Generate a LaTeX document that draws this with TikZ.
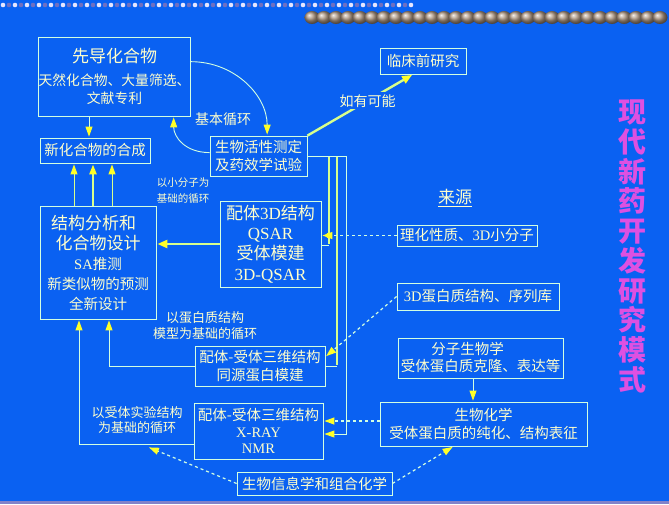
\documentclass[tikz,border=0pt]{standalone}
\usepackage{fontspec}
\setmainfont{Noto Sans CJK SC}
\newfontfamily\tm{Liberation Serif}
\usepackage{tikz}
\usetikzlibrary{arrows.meta,calc}

\definecolor{bg}{RGB}{10,97,242}
\definecolor{txt}{RGB}{255,255,204}
\definecolor{frame}{RGB}{210,255,225}
\definecolor{fat}{RGB}{215,255,140}
\definecolor{tip}{RGB}{255,255,40}
\definecolor{ttl}{RGB}{222,80,225}
\definecolor{pebble}{RGB}{175,152,132}

\begin{document}
\begin{tikzpicture}[x=1pt,y=-1pt,shorten >=1pt]
        \tikzstyle{box}=[draw=frame,line width=0.8pt,text=txt,inner sep=0pt,align=center,font=\fontsize{14.5}{18.5}\selectfont]
        \tikzstyle{note}=[text=txt,inner sep=0pt,align=center]
        \tikzstyle{wire}=[draw=frame,line width=0.9pt,-{Triangle[length=10pt,width=7pt,color=tip,fill=tip]}]
        \tikzstyle{fatwire}=[draw=fat,line width=2.4pt,-{Triangle[length=10pt,width=8pt,color=tip,fill=tip]}]
        \tikzstyle{dashwire}=[draw=frame,line width=1.2pt,dash pattern=on 3pt off 3pt,-{Triangle[length=10pt,width=7pt,color=tip,fill=tip]}]
        % background and top border
        \fill[bg] (0,0) rectangle (669,504);
        \useasboundingbox (0,0) rectangle (669,504);
        \foreach \i in {0,2,...,68} \fill[white!90!blue] (3+6*\i,5) circle (2.3pt);
        \foreach \i in {1,3,...,67} \fill[gray!60!blue!80] (3+6*\i,5) circle (2.3pt);
        \foreach \i in {0,...,29} \shade[ball color=pebble] (312+12*\i,17.5) ellipse (7.5pt and 6.5pt);
        \fill[gray!60!blue!70] (0,501) rectangle (669,504);
        % boxes
        \node[box,minimum width=151pt,minimum height=79pt,font=\fontsize{13.8}{18}\selectfont] (lead) at (114.5,76.5) {{\fontsize{17}{17}\selectfont 先导化合物}\\[5pt]天然化合物、大量筛选、\\文献专利};
        \node[box,minimum width=110pt,minimum height=25pt] (newsyn) at (95,150.5) {新化合物的合成};
        \node[box,minimum width=97pt,minimum height=40pt] (bio) at (258.5,156) {生物活性测定\\及药效学试验};
        \node[box,minimum width=86pt,minimum height=26pt] (preclin) at (423,61) {临床前研究};
        \node[box,minimum width=116pt,minimum height=113pt,font=\fontsize{14.5}{20}\selectfont] (design) at (98,262.5) {{\fontsize{17}{20}\selectfont 结构分析和\hspace*{9pt}}\\{\fontsize{17}{20}\selectfont 化合物设计\hspace*{9pt}}\\{\tm SA}推测\\新类似物的预测\\全新设计};
        \node[box,minimum width=101pt,minimum height=86pt,font=\fontsize{17}{20.3}\selectfont] (qsar) at (270.5,244) {配体{\tm 3D}结构\\{\tm QSAR}\\受体模建\\{\tm 3D-QSAR}};
        \node[box,minimum width=130pt,minimum height=40pt] (homol) at (260,366) {配体-受体三维结构\\同源蛋白模建};
        \node[box,minimum width=129pt,minimum height=56pt,font=\fontsize{14.5}{16.5}\selectfont] (xray) at (258.5,431) {配体-受体三维结构\\{\tm X-RAY}\\{\tm NMR}};
        \node[box,minimum width=140pt,minimum height=21pt] (physchem) at (467,235.5) {理化性质、{\tm 3D}小分子};
        \node[box,minimum width=162pt,minimum height=27pt] (protdb) at (478,296.5) {{\tm 3D}蛋白质结构、序列库};
        \node[box,minimum width=165pt,minimum height=40pt,font=\fontsize{14.5}{17}\selectfont] (molbio) at (480.5,358) {分子生物学\hspace*{26pt}\\受体蛋白质克隆、表达等};
        \node[box,minimum width=207pt,minimum height=44pt,font=\fontsize{14.5}{18}\selectfont] (biochem) at (483.5,424) {生物化学\\受体蛋白质的纯化、结构表征};
        \node[box,minimum width=155pt,minimum height=23pt] (bioinfo) at (314.5,483.5) {生物信息学和组合化学};
        % free labels
        \node[note,font=\fontsize{14}{14}\selectfont] (basic) at (223,119) {基本循环};
        \node[note,font=\fontsize{10.5}{16}\selectfont] (smallloop) at (183,191) {以小分子为\\基础的循环};
        \node[note,font=\fontsize{13}{16}\selectfont] (protloop) at (205,326) {以蛋白质结构\\模型为基础的循环};
        \node[note,font=\fontsize{13}{14.5}\selectfont] (xloop) at (137,420) {以受体实验结构\\为基础的循环};
        \node[note,font=\fontsize{17}{17}\selectfont] (source) at (455,198) {\underline{来源}};
        \node[text=ttl,inner sep=0pt,align=center,font=\fontsize{28}{29.7}\selectfont\bfseries] (title) at (632,246.5) {现\\代\\新\\药\\开\\发\\研\\究\\模\\式};
        % main cycle
        \draw[wire] ([xshift=-25.5pt]lead.south) -- ([xshift=-25.5pt]lead.south |- newsyn.north);
        \foreach \dx/\lw in {-24/0.9,-5/2.4,14/0.9}
            \draw[wire,draw=fat,line width=\lw pt] ([xshift=\dx pt]design.north) -- ([xshift=\dx pt]design.north |- newsyn.south);
        \draw[wire] (lead.11) .. controls +(44,0) and +(0,-40) .. (bio.67);
        \draw[wire] (bio.176) .. controls +(-25,0) and +(0,20) .. (lead.-34);
        \draw[fatwire] (bio.north east) -- node[pos=0.57,fill=bg,inner sep=2pt,text=txt,font=\fontsize{14}{14}\selectfont] (maybe) {如有可能} ([xshift=-10pt]preclin.south);
        \draw[fatwire] (qsar.west) -- (qsar.west -| design.east);
        % lines from the assay
        \coordinate (v1) at (329,245);
        \coordinate (v2) at (337,366);
        \coordinate (v3) at (346,434);
        \draw[fat,line width=2.4pt] (bio.east -| v1) -- (v1);
        \draw[frame,line width=0.9pt] (v1) -- (v1 -| qsar.east);
        \draw[fat,line width=2.4pt] (bio.east -| v2) -- (v2);
        \draw[frame,line width=0.9pt] (v2) -- (v2 -| homol.east);
        \draw[wire] (bio.east) -| (v3) -- (v3 -| xray.east);
        % sources
        \draw[dashwire] (physchem.west) -- (physchem.west -| qsar.east);
        \fill[tip] (physchem.west -| v1) circle (3pt);
        \draw[dashwire] (protdb.west) -- (homol.8);
        \draw[wire] ([xshift=-7.5pt]molbio.south) -- ([xshift=-7.5pt]molbio.south |- biochem.north);
        \draw[dashwire] ([yshift=3pt]biochem.west) -- ([yshift=3pt]biochem.west -| xray.east);
        \coordinate (loopin) at (148,447);
        \draw[dashwire] (bioinfo.west) -- (loopin);
        \draw[dashwire] (bioinfo.east) -- ([xshift=-30pt]biochem.south);
        % protein loops
        \draw[wire] (homol.west) -| ([xshift=11pt]design.south);
        \draw[wire] ([yshift=-13pt]xray.west) -| ([xshift=-19pt]design.south);
\end{tikzpicture}
\end{document}
